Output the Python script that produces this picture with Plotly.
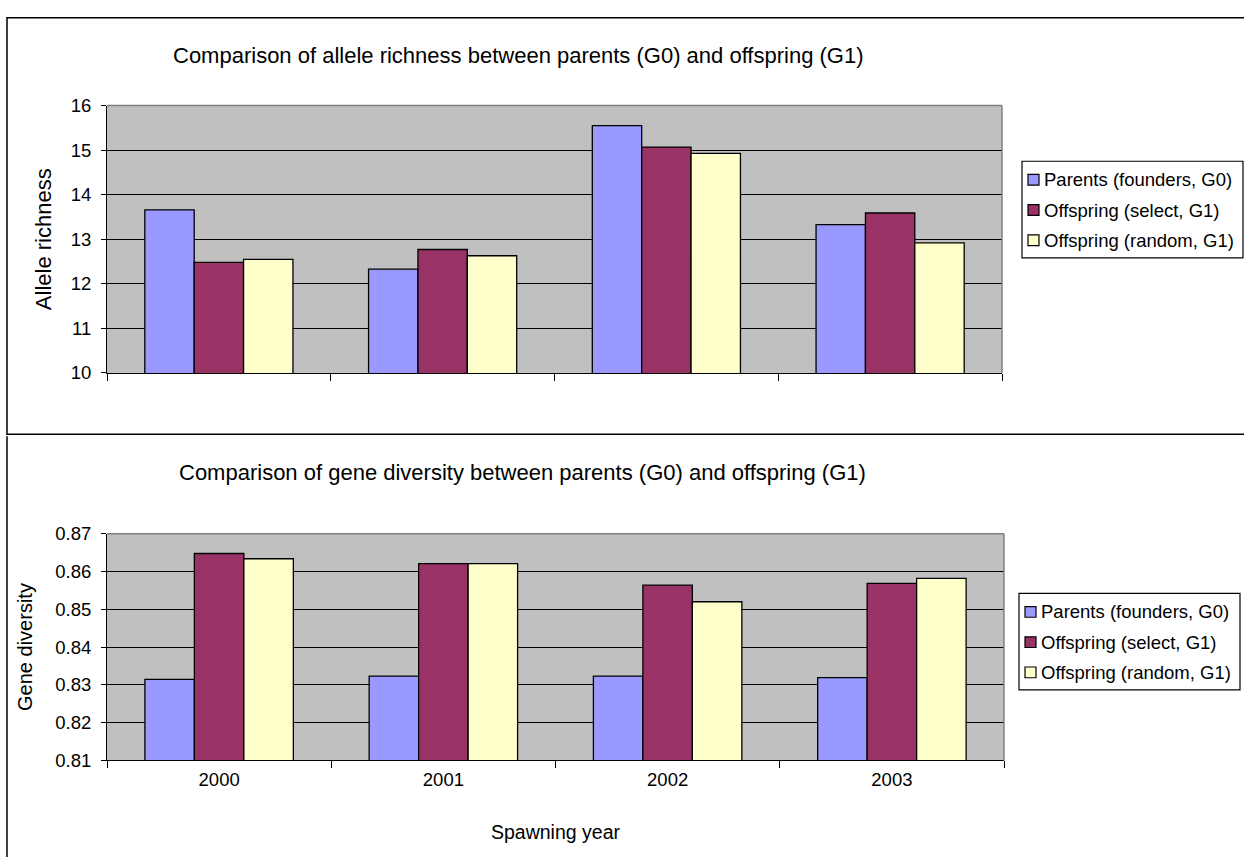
import plotly.graph_objects as go

# Spawning years (categories shared by both panels)
years = ["2000", "2001", "2002", "2003"]

# Series names
series_names = [
    "Parents (founders, G0)",
    "Offspring (select, G1)",
    "Offspring (random, G1)",
]

# Allele richness per year
richness_parents = [13.66, 12.33, 15.55, 13.33]
richness_select = [12.48, 12.77, 15.07, 13.59]
richness_random = [12.55, 12.63, 14.93, 12.92]

# Gene diversity per year
diversity_parents = [0.8314, 0.8323, 0.8323, 0.8319]
diversity_select = [0.8648, 0.8621, 0.8564, 0.8569]
diversity_random = [0.8634, 0.8621, 0.8520, 0.8582]

# Axis ticks
richness_ticks = [10, 11, 12, 13, 14, 15, 16]
diversity_ticks = [0.81, 0.82, 0.83, 0.84, 0.85, 0.86, 0.87]
diversity_ticklabels = ["0.81", "0.82", "0.83", "0.84", "0.85", "0.86", "0.87"]

colors = ["#9999FF", "#993366", "#FFFFCC"]
FONT = "Liberation Sans, Arial, sans-serif"
W, H = 1244, 857

TICK_SIZE = 18.5
CHART_TITLE_SIZE = 22
LEGEND_SIZE = 18.5


def px_x(x):
    return x / W


def px_y(y):
    return 1 - y / H


fig = go.Figure()

top_series = [richness_parents, richness_select, richness_random]
bottom_series = [diversity_parents, diversity_select, diversity_random]

for i, (name, vals) in enumerate(zip(series_names, top_series)):
    fig.add_trace(go.Bar(
        x=years, y=vals, name=name, xaxis="x", yaxis="y",
        marker=dict(color=colors[i], line=dict(color="black", width=1.3)),
        showlegend=False,
    ))

for i, (name, vals) in enumerate(zip(series_names, bottom_series)):
    fig.add_trace(go.Bar(
        x=years, y=vals, name=name, xaxis="x2", yaxis="y2",
        marker=dict(color=colors[i], line=dict(color="black", width=1.3)),
        showlegend=False,
    ))

tickfont = dict(family=FONT, size=TICK_SIZE, color="black")

common_x = dict(
    type="category", showgrid=False, showline=True, linecolor="black",
    linewidth=1, ticks="outside", ticklen=7, tickcolor="black",
    tickson="boundaries", zeroline=False, tickfont=tickfont,
    ticklabelstandoff=3,
)
common_y = dict(
    showgrid=True, gridcolor="black", gridwidth=1, showline=True,
    linecolor="black", linewidth=1, ticks="outside", ticklen=5,
    tickcolor="black", zeroline=False, tickfont=tickfont,
    ticklabelstandoff=6,
)

shapes = [
    # chart frames
    dict(type="rect", xref="paper", yref="paper",
         x0=px_x(7), x1=px_x(1260), y0=px_y(434), y1=px_y(7),
         line=dict(color="black", width=1.5), layer="below"),
    dict(type="line", xref="paper", yref="paper",
         x0=px_x(7), x1=px_x(7), y0=px_y(436), y1=px_y(870),
         line=dict(color="black", width=1.5)),
    # plot area borders (top and right edges)
    dict(type="line", xref="paper", yref="paper",
         x0=px_x(107), x1=px_x(1002), y0=px_y(97), y1=px_y(97),
         line=dict(color="#808080", width=1.5)),
    dict(type="line", xref="paper", yref="paper",
         x0=px_x(1002), x1=px_x(1002), y0=px_y(97), y1=px_y(371),
         line=dict(color="#808080", width=1.5)),
    dict(type="line", xref="paper", yref="paper",
         x0=px_x(107), x1=px_x(1004), y0=px_y(536), y1=px_y(536),
         line=dict(color="#808080", width=1.5)),
    dict(type="line", xref="paper", yref="paper",
         x0=px_x(1004), x1=px_x(1004), y0=px_y(536), y1=px_y(768),
         line=dict(color="#808080", width=1.5)),
]

annotations = [
    dict(text="Comparison of allele richness between parents (G0) and offspring (G1)",
         x=px_x(518), y=px_y(46), xref="paper", yref="paper",
         xanchor="center", yanchor="middle",
         showarrow=False, font=dict(family=FONT, size=CHART_TITLE_SIZE)),
    dict(text="Comparison of gene diversity between parents (G0) and offspring (G1)",
         x=px_x(522), y=px_y(473), xref="paper", yref="paper",
         xanchor="center", yanchor="middle",
         showarrow=False, font=dict(family=FONT, size=CHART_TITLE_SIZE)),
]


def add_legend(left, top):
    """Boxed legend: small square swatch followed by the series name."""
    shapes.append(dict(type="rect", xref="paper", yref="paper",
                       x0=px_x(left), x1=px_x(left + 221),
                       y0=px_y(top + 99), y1=px_y(top),
                       line=dict(color="black", width=1.2),
                       fillcolor="white", layer="above"))
    for k, (name, col) in enumerate(zip(series_names, colors)):
        cy = top + 19 + k * 31
        shapes.append(dict(type="rect", xref="paper", yref="paper",
                           x0=px_x(left + 6), x1=px_x(left + 17),
                           y0=px_y(cy + 5.5), y1=px_y(cy - 5.5),
                           line=dict(color="black", width=1.2),
                           fillcolor=col, layer="above"))
        annotations.append(dict(text=name, x=px_x(left + 20), y=px_y(cy),
                                xref="paper", yref="paper",
                                xanchor="left", yanchor="middle",
                                showarrow=False,
                                font=dict(family=FONT, size=LEGEND_SIZE)))


add_legend(1022, 154)
add_legend(1019, 597)

fig.update_layout(
    width=W, height=H, autosize=False,
    margin=dict(l=0, r=0, t=0, b=0),
    paper_bgcolor="white", plot_bgcolor="#C0C0C0",
    barmode="group", bargap=0.338, bargroupgap=0,
    font=dict(family=FONT, size=TICK_SIZE, color="black"),
    xaxis=dict(common_x, domain=[px_x(107), px_x(1002)], anchor="y",
               showticklabels=False),
    yaxis=dict(common_y, domain=[px_y(371), px_y(97)], anchor="x",
               range=[10, 16], tickvals=richness_ticks,
               title=dict(text="Allele richness",
                          font=dict(family=FONT, size=22),
                          standoff=13)),
    xaxis2=dict(common_x, domain=[px_x(107), px_x(1004)], anchor="y2",
                title=dict(text="Spawning year",
                           font=dict(family=FONT, size=19.5),
                           standoff=35)),
    yaxis2=dict(common_y, domain=[px_y(768), px_y(536)], anchor="x2",
                range=[0.81, 0.87], tickvals=diversity_ticks,
                ticktext=diversity_ticklabels,
                title=dict(text="Gene diversity",
                           font=dict(family=FONT, size=20),
                           standoff=17)),
    shapes=shapes,
    annotations=annotations,
)

fig.write_html("out.html")
